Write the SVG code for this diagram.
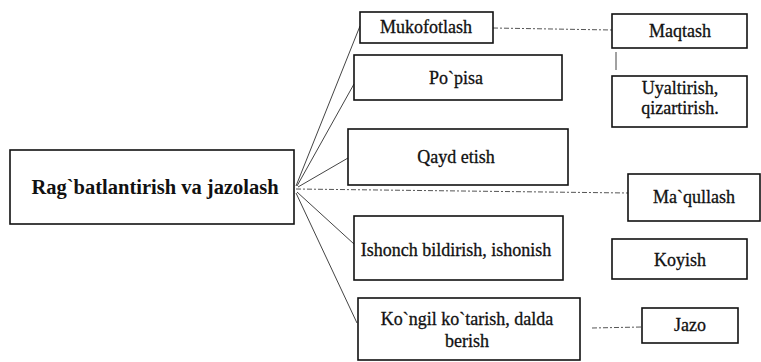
<svg xmlns="http://www.w3.org/2000/svg" width="761" height="362" viewBox="0 0 761 362">
<style>
.box{fill:#fff;stroke:#111;stroke-width:1.6}
.t{font-family:"Liberation Serif","DejaVu Serif","Times New Roman",serif;font-size:18px;fill:#111;text-anchor:middle;stroke:#111;stroke-width:0.3}
.m{font-family:"Liberation Serif","DejaVu Serif","Times New Roman",serif;font-size:20.5px;font-weight:bold;fill:#111;text-anchor:middle}
.c{fill:none;stroke:#444;stroke-width:1}
.d{fill:none;stroke:#555;stroke-width:1;stroke-dasharray:5 2 2 2}
</style>
<rect width="761" height="362" fill="#fff"/>
<g id="connectors">
<line class="c" x1="296" y1="186" x2="360" y2="26"/>
<line class="c" x1="297" y1="186" x2="354" y2="84"/>
<line class="c" x1="298" y1="187" x2="348" y2="158"/>
<line class="d" x1="296" y1="189" x2="628" y2="193"/>
<line class="c" x1="297" y1="192" x2="354" y2="244"/>
<line class="c" x1="296" y1="193" x2="357" y2="323"/>
<line class="d" x1="493" y1="28" x2="612" y2="30"/>
<line class="c" x1="616" y1="52" x2="616" y2="70" stroke-width="1.5"/>
<line class="d" x1="592" y1="328" x2="642" y2="327"/>
</g>
<g id="main"><rect class="box" x="10" y="150" width="284" height="74"/><text class="m" x="155" y="194">Rag`batlantirish va jazolash</text></g>
<g id="mukofotlash"><rect class="box" x="360" y="12" width="133" height="31"/><text class="t" x="426" y="33">Mukofotlash</text></g>
<g id="popisa"><rect class="box" x="354" y="55" width="208" height="45"/><text class="t" x="456" y="84">Po`pisa</text></g>
<g id="qayd"><rect class="box" x="348" y="129" width="220" height="56"/><text class="t" x="456" y="163">Qayd etish</text></g>
<g id="ishonch"><rect class="box" x="354" y="216" width="209" height="64"/><text class="t" x="456" y="256">Ishonch bildirish, ishonish</text></g>
<g id="kongil"><rect class="box" x="358" y="298" width="222" height="62"/><text class="t" x="467" y="325">Ko`ngil ko`tarish, dalda</text><text class="t" x="467" y="347">berish</text></g>
<g id="maqtash"><rect class="box" x="612" y="14" width="135" height="34"/><text class="t" x="680" y="37">Maqtash</text></g>
<g id="uyaltirish"><rect class="box" x="612" y="76" width="135" height="51"/><text class="t" x="680" y="94" font-size="16.5">Uyaltirish,</text><text class="t" x="680" y="114" font-size="16.5">qizartirish.</text></g>
<g id="maqullash"><rect class="box" x="628" y="174" width="132" height="47"/><text class="t" x="694" y="203">Ma`qullash</text></g>
<g id="koyish"><rect class="box" x="612" y="239" width="135" height="40"/><text class="t" x="680" y="266">Koyish</text></g>
<g id="jazo"><rect class="box" x="642" y="308" width="96" height="35"/><text class="t" x="690" y="331">Jazo</text></g>
</svg>
